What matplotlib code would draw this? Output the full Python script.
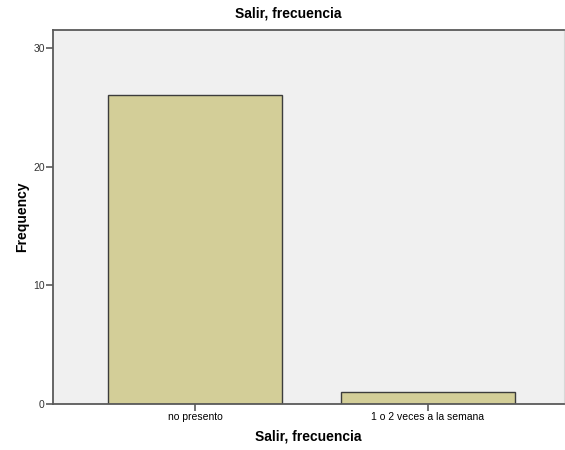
import numpy as np
import matplotlib
matplotlib.use('Agg')
import matplotlib.pyplot as plt

plt.rcParams['font.family'] = ['Liberation Sans', 'DejaVu Sans']

categories = ['no presento', '1 o 2 veces a la semana']
counts = [26, 1]
y_ticks = [0, 10, 20, 30]

bar_color = '#d3ce98'
edge_color = '#3c3c3c'
frame_color = '#5a5a5a'

fig = plt.figure(figsize=(5.65, 4.5), dpi=100)
ax = fig.add_axes([53 / 565, 46 / 450, 511 / 565, 374 / 450])
ax.set_facecolor('#f0f0f0')

x = np.arange(len(categories))
ax.bar(x, counts, width=0.745, color=bar_color, edgecolor=edge_color, linewidth=1.0)

ax.set_xlim(-0.61, 1.585)
ax.set_ylim(0, 31.5)
ax.set_xticks(x)
ax.set_xticklabels(categories, fontsize=7.5)
ax.set_yticks(y_ticks)
ax.set_yticklabels([str(v) for v in y_ticks], fontsize=7.5, color='#333333')
ax.tick_params(axis='both', direction='out', length=5, width=1.2, color=frame_color, pad=1)

for side in ['left', 'bottom', 'top']:
    ax.spines[side].set_color(frame_color)
    ax.spines[side].set_linewidth(1.3)
ax.spines['right'].set_color('#d8d8d8')
ax.spines['right'].set_linewidth(0.8)

ax.set_xlabel('Salir, frecuencia', fontsize=10, fontweight='bold', labelpad=5)
ax.set_ylabel('Frequency', fontsize=10, fontweight='bold', labelpad=3)
fig.text(288 / 565, 1 - 13 / 450, 'Salir, frecuencia', fontsize=10, fontweight='bold',
         ha='center', va='center')

plt.savefig('out.png', dpi=100)
